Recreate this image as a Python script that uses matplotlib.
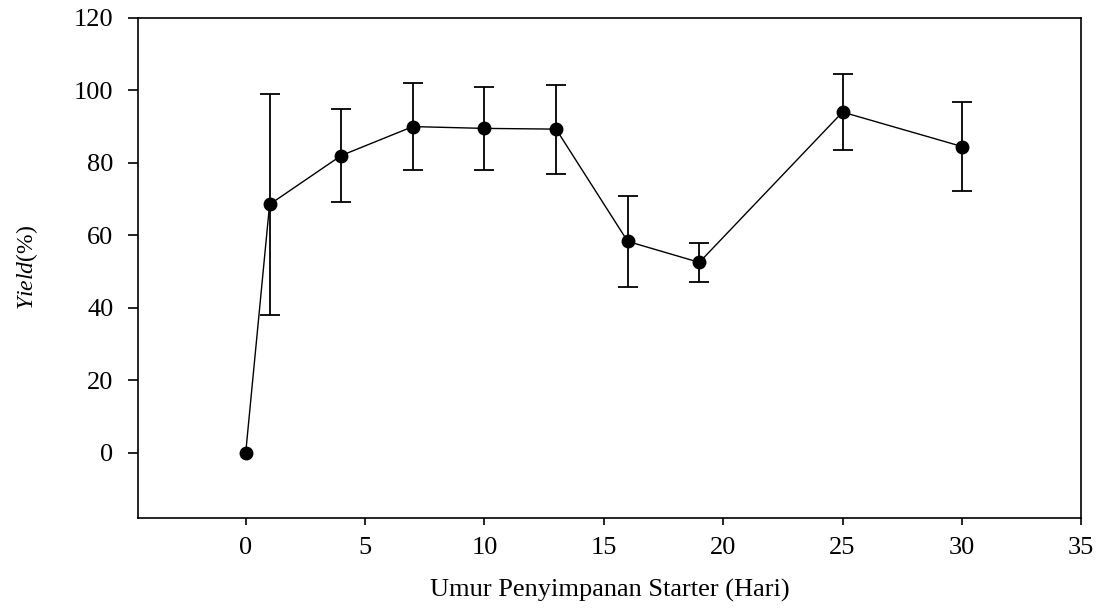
import matplotlib
matplotlib.use("Agg")
import matplotlib.pyplot as plt

# storage age of starter (days) vs yield (%)
days = [0, 1, 4, 7, 10, 13, 16, 19, 25, 30]
yield_pct = [0.0, 68.5, 82.0, 90.0, 89.5, 89.3, 58.3, 52.5, 94.0, 84.5]
yield_err = [0.0, 30.4, 12.9, 11.9, 11.4, 12.3, 12.6, 5.4, 10.6, 12.4]

xticks = [0, 5, 10, 15, 20, 25, 30, 35]
yticks = [0, 20, 40, 60, 80, 100, 120]

plt.rcParams['font.family'] = ['Liberation Serif', 'DejaVu Serif']
plt.rcParams['mathtext.fontset'] = 'custom'
plt.rcParams['mathtext.rm'] = 'Liberation Serif'
plt.rcParams['mathtext.it'] = 'Liberation Serif:italic'


def main():
    fig = plt.figure(figsize=(11.02, 6.08), dpi=100)
    ax = fig.add_axes([0.1255, 0.1485, 0.8557, 0.822])

    ax.plot(days, yield_pct, color='black', lw=1.0, marker='o', ms=9,
            mfc='black', mec='black', zorder=3)

    # no error bar on day 0 (no spread there)
    ex = [d for d, e in zip(days, yield_err) if e > 0]
    ey = [v for v, e in zip(yield_pct, yield_err) if e > 0]
    ee = [e for e in yield_err if e > 0]
    ax.errorbar(ex, ey, yerr=ee, fmt='none', ecolor='black',
                elinewidth=1.3, capsize=7, capthick=1.3, zorder=2)

    ax.set_xlim(-4.5, 35)
    ax.set_ylim(-18, 120)
    ax.set_xticks(xticks)
    ax.set_yticks(yticks)

    for s in ax.spines.values():
        s.set_linewidth(1.2)
    ax.tick_params(axis='y', direction='out', length=7, width=1.2,
                   labelsize=19, pad=11)
    ax.tick_params(axis='x', direction='out', length=5, width=1.2,
                   labelsize=19, pad=9)

    ax.set_xlabel('Umur Penyimpanan Starter (Hari)', fontsize=19, labelpad=14)
    ax.set_ylabel(r'$\mathit{Yield}$(%)', fontsize=17, labelpad=24)

    fig.savefig('out.png', dpi=100)


if __name__ == "__main__":
    main()
